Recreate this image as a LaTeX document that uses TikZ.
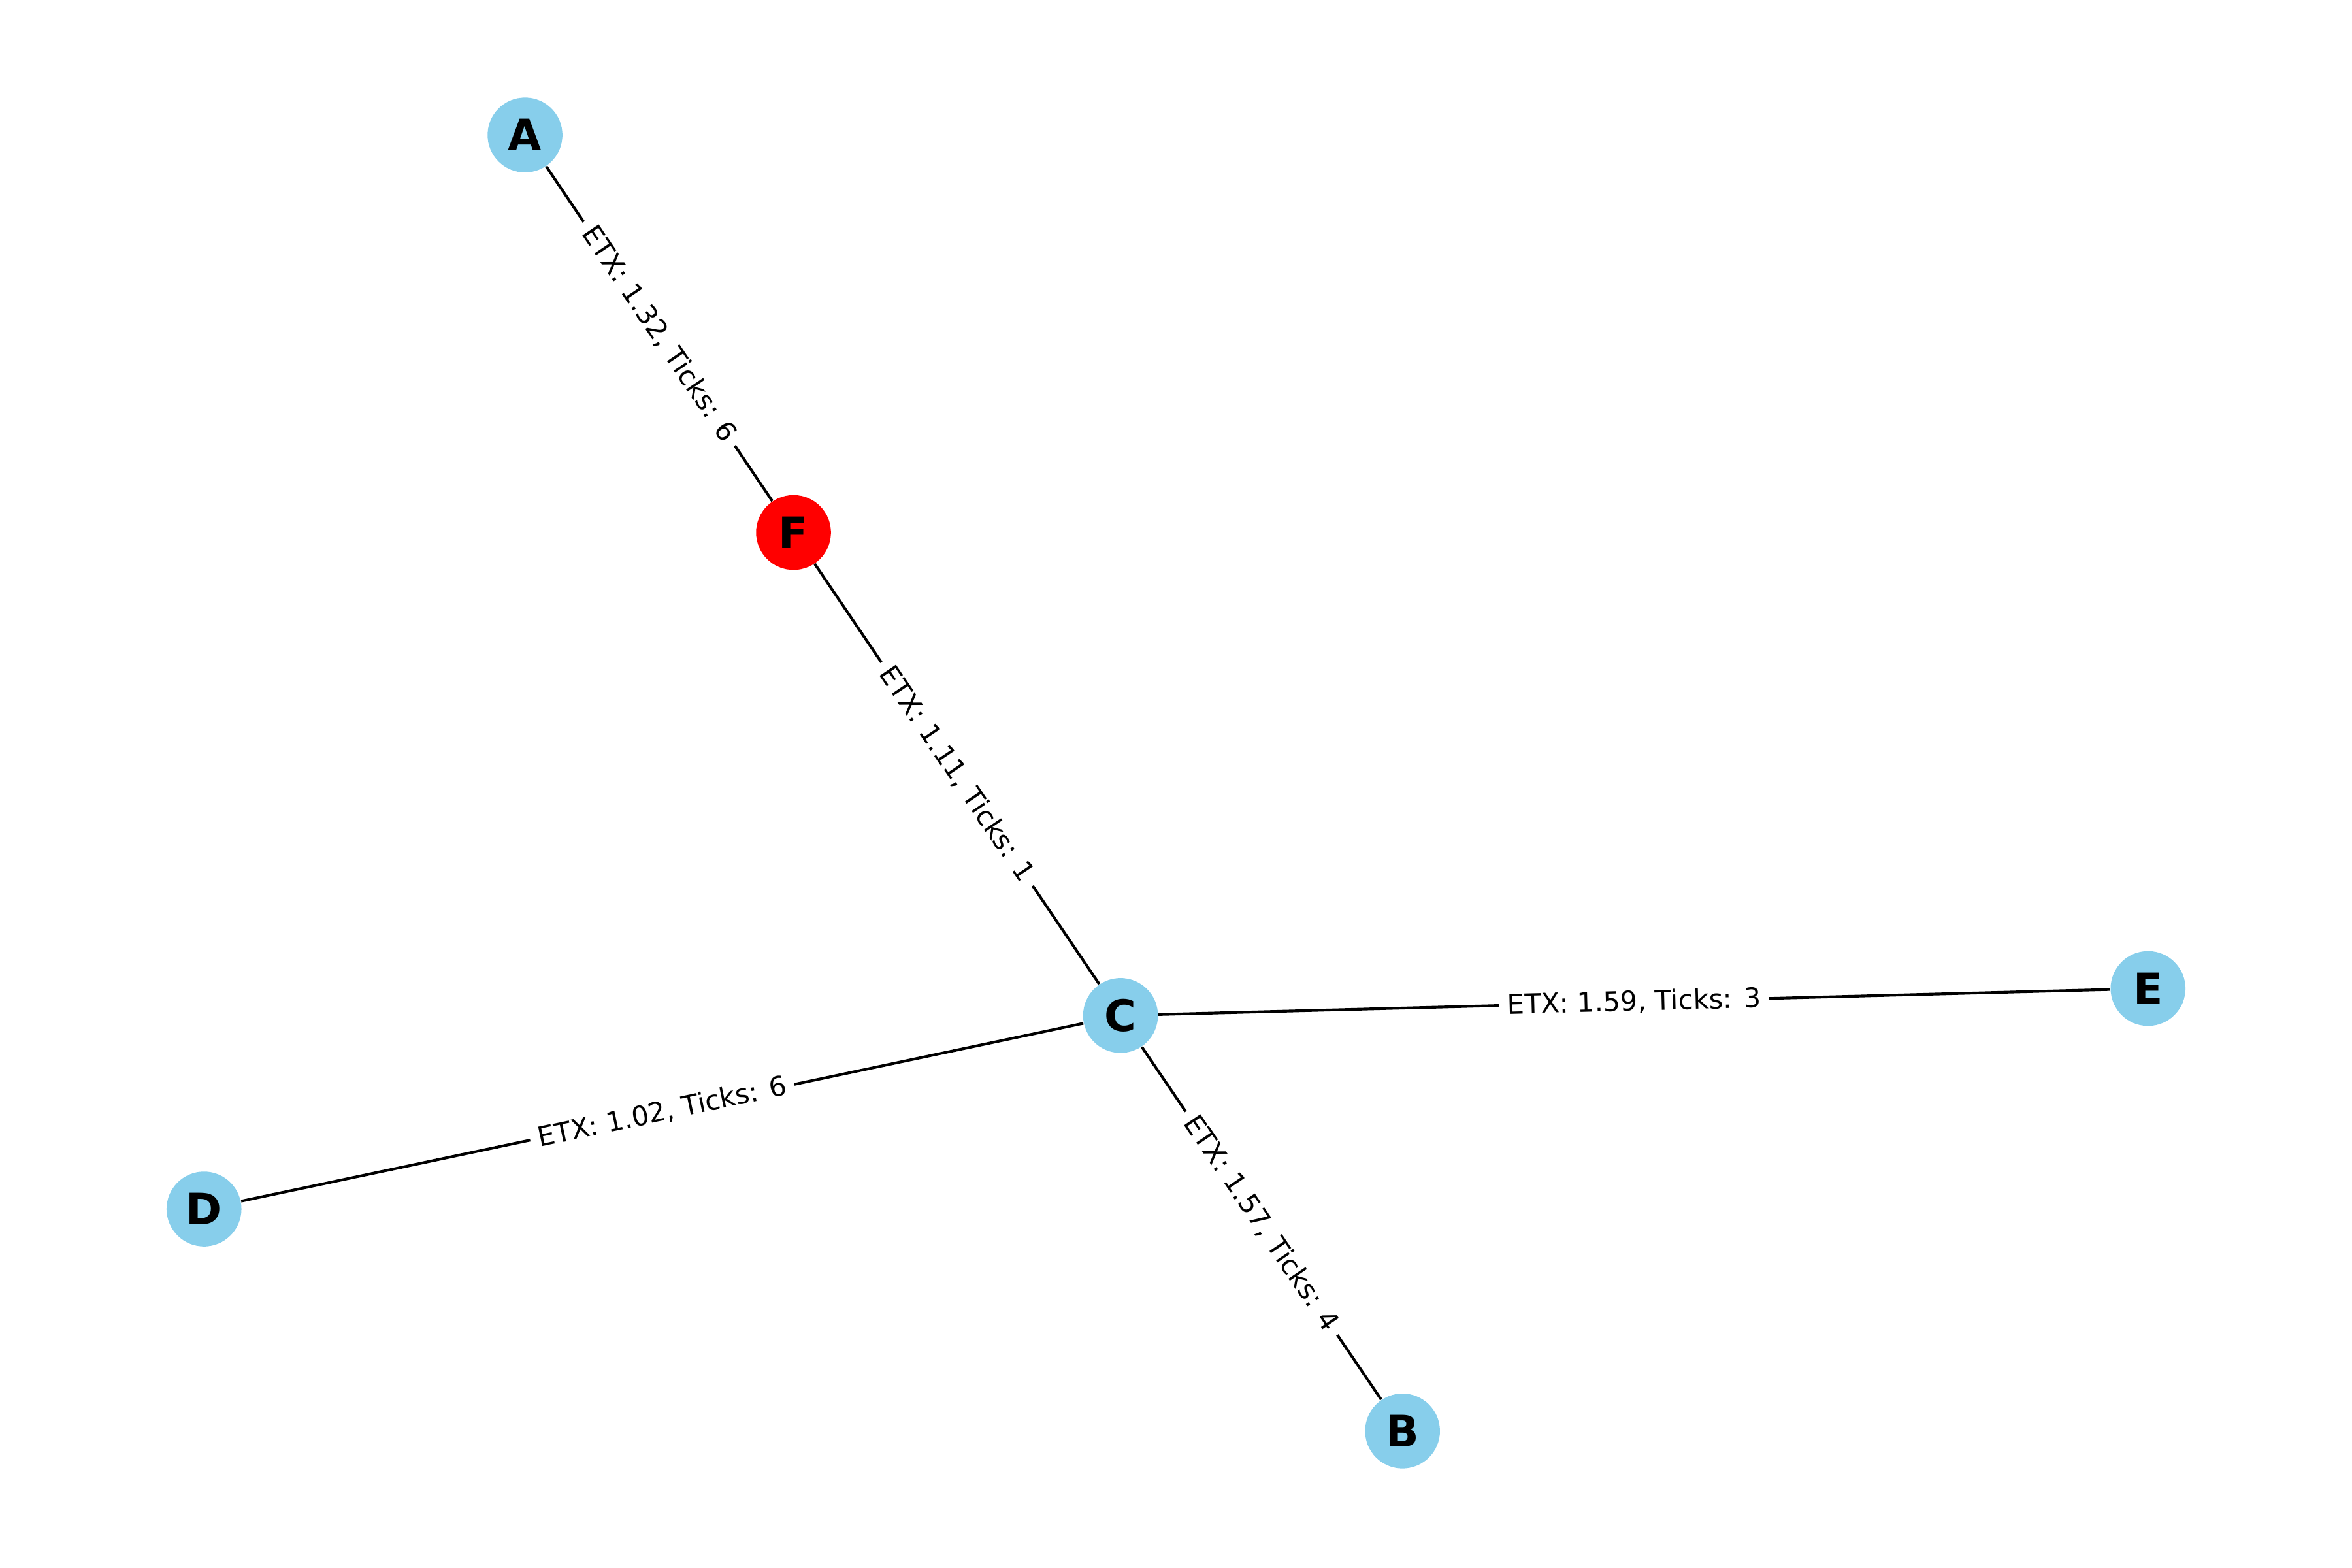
\documentclass[tikz,border=0pt]{standalone}
\usepackage{fontspec}
\setmainfont{DejaVu Sans}
\usepackage{xcolor}
\definecolor{sky-blue}{HTML}{87CEEB}
\definecolor{root-red}{HTML}{FF0000}

\begin{document}
\begin{tikzpicture}[x=0.019439cm, y=-0.019439cm,
    every node/.style={font=\fontsize{10}{12}\selectfont},
    peer/.style={circle, fill=sky-blue, minimum size=0.97cm, inner sep=0,
      font=\fontsize{16}{19}\selectfont\bfseries},
    root/.style={peer, fill=root-red},
    link/.style={line width=1bp, color=black},
    etx/.style={midway, sloped, fill=white, rounded corners=2pt,
      inner xsep=3pt, inner ysep=1.5pt}]
    \useasboundingbox (0,0) rectangle (1568,1045);
    % nodes
    \node[peer] (nA) at (350,90) {A};
    \node[root] (nF) at (529,355) {F};
    \node[peer] (nC) at (747,677) {C};
    \node[peer] (nE) at (1432,659) {E};
    \node[peer] (nD) at (136,806) {D};
    \node[peer] (nB) at (935,954) {B};
    % links
    \draw[link] (nA) -- node[etx] {ETX: 1.32, Ticks: 6} (nF);
    \draw[link] (nF) -- node[etx] {ETX: 1.11, Ticks: 1} (nC);
    \draw[link] (nC) -- node[etx] {ETX: 1.59, Ticks: 3} (nE);
    \draw[link] (nD) -- node[etx] {ETX: 1.02, Ticks: 6} (nC);
    \draw[link] (nC) -- node[etx] {ETX: 1.57, Ticks: 4} (nB);
\end{tikzpicture}
\end{document}
